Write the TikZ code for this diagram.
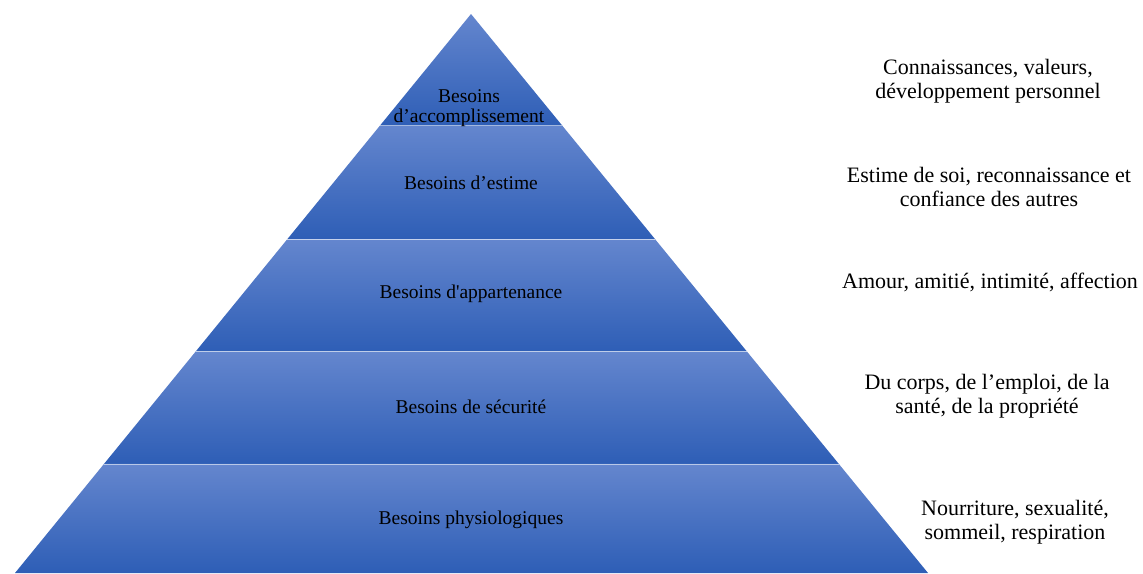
\documentclass[tikz,border=0pt]{standalone}
\usepackage{fontspec}
\setmainfont{Liberation Serif}
\usetikzlibrary{calc}

\definecolor{bandtop}{RGB}{100,134,206}
\definecolor{bandmid}{RGB}{68,114,196}
\definecolor{bandbot}{RGB}{46,94,182}

\begin{document}
\begin{tikzpicture}[x=1pt,y=-1pt,
    band/.style={top color=bandtop, middle color=bandmid, bottom color=bandbot},
    sep/.style={white, opacity=0.55, line width=0.8pt},
    level/.style={font=\fontsize{19.5}{20}\selectfont, align=center, text=black},
    note/.style={font=\fontsize{22}{24.5}\selectfont, align=center, text=black}]
    \useasboundingbox (0,0) rectangle (1143,573);

    % Pyramid corners
    \coordinate (apex) at (471,14);
    \coordinate (L) at (15,573);
    \coordinate (R) at (928,573);

    % Top band (triangle)
    \shade[band] (apex) -- ($(apex)!0.2!(R)$) -- ($(apex)!0.2!(L)$) -- cycle;

    % Lower bands
    \foreach \a/\b in {0.2/0.403, 0.403/0.604, 0.604/0.805, 0.805/1} {
        \shade[band] ($(apex)!\a!(L)$) -- ($(apex)!\a!(R)$)
            -- ($(apex)!\b!(R)$) -- ($(apex)!\b!(L)$) -- cycle;
        \draw[sep] ($(apex)!\a!(L)$) -- ($(apex)!\a!(R)$);
    }

    % Levels
    \node[level] (accomp) at (469,108) {Besoins\\d’accomplissement};
    \node[level] (estime) at (471,183) {Besoins d’estime};
    \node[level] (appart) at (471,294) {Besoins d\textquotesingle appartenance};
    \node[level] (secur) at (471,407) {Besoins de sécurité};
    \node[level] (physio) at (471,520) {Besoins physiologiques};

    % Examples on the right
    \node[note] (accompNote) at (988,81) {Connaissances, valeurs,\\développement personnel};
    \node[note] (estimeNote) at (989,187) {Estime de soi, reconnaissance et\\confiance des autres};
    \node[note] (appartNote) at (990,282) {Amour, amitié, intimité, affection};
    \node[note] (securNote) at (987,396) {Du corps, de l’emploi, de la\\santé, de la propriété};
    \node[note] (physioNote) at (1015,522) {Nourriture, sexualité,\\sommeil, respiration};
\end{tikzpicture}
\end{document}
